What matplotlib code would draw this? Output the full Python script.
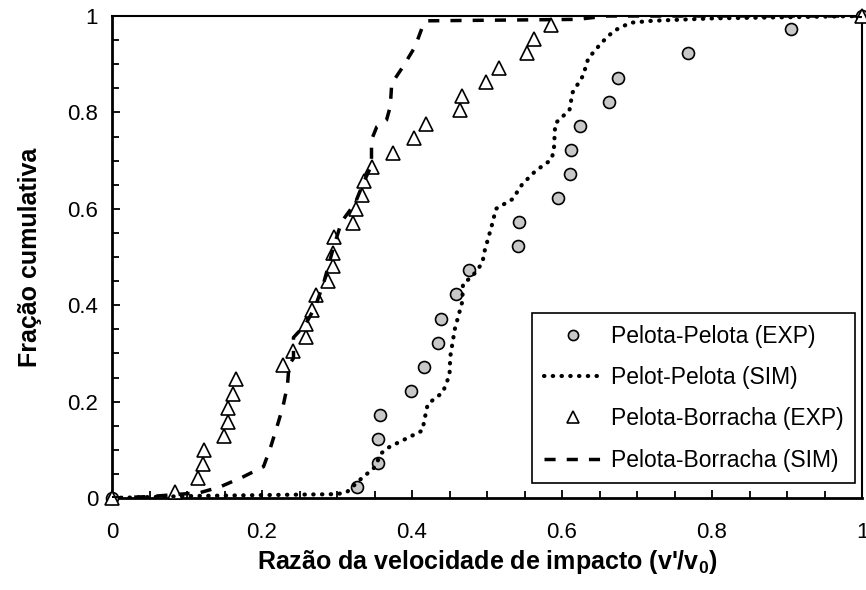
import matplotlib
matplotlib.use("Agg")
import matplotlib.pyplot as plt
from matplotlib.ticker import MultipleLocator, FuncFormatter

plt.rcParams["font.family"] = ["Liberation Sans", "DejaVu Sans"]
plt.rcParams["mathtext.fontset"] = "custom"
plt.rcParams["mathtext.rm"] = "Liberation Sans"
plt.rcParams["mathtext.bf"] = "Liberation Sans:bold"

# Pelota-Pelota, experimental
pp_exp_x = [0, 0.327, 0.354, 0.355, 0.357, 0.398, 0.416, 0.434, 0.438, 0.459, 0.476,
            0.541, 0.542, 0.594, 0.610, 0.612, 0.624, 0.663, 0.675, 0.768, 0.905, 1.0]
pp_exp_y = [0, 0.022, 0.073, 0.123, 0.173, 0.223, 0.272, 0.322, 0.372, 0.423, 0.473,
            0.522, 0.573, 0.622, 0.672, 0.723, 0.772, 0.822, 0.871, 0.923, 0.972, 1.0]

# Pelota-Pelota, simulated
pp_sim_x = [0, 0.1, 0.2, 0.3, 0.313, 0.33, 0.349, 0.36, 0.37, 0.392, 0.414, 0.416, 0.421,
            0.441, 0.45, 0.451, 0.457, 0.467, 0.468, 0.48, 0.494, 0.496, 0.506, 0.512,
            0.534, 0.547, 0.565, 0.585, 0.589, 0.591, 0.61, 0.614, 0.628, 0.635, 0.653,
            0.669, 0.691, 0.72, 0.8, 1.0]
pp_sim_y = [0, 0.004, 0.006, 0.008, 0.012, 0.037, 0.062, 0.094, 0.106, 0.123, 0.140, 0.158,
            0.195, 0.219, 0.255, 0.293, 0.35, 0.407, 0.445, 0.459, 0.488, 0.508, 0.563, 0.6,
            0.62, 0.651, 0.679, 0.701, 0.718, 0.777, 0.805, 0.841, 0.876, 0.912, 0.945,
            0.969, 0.986, 0.99, 0.995, 1.0]

# Pelota-Borracha, experimental
pb_exp_x = [0, 0.084, 0.114, 0.121, 0.122, 0.149, 0.155, 0.155, 0.161, 0.165,
            0.228, 0.241, 0.259, 0.259, 0.267, 0.272, 0.288, 0.295, 0.295,
            0.296, 0.321, 0.325, 0.333, 0.336, 0.347, 0.374,
            0.403, 0.419, 0.464, 0.467, 0.499, 0.516, 0.553, 0.562, 0.585, 1.0]
pb_exp_y = [0, 0.013, 0.041, 0.070, 0.100, 0.129, 0.157, 0.186, 0.216, 0.246,
            0.276, 0.304, 0.333, 0.361, 0.391, 0.421, 0.450, 0.481, 0.509,
            0.541, 0.570, 0.599, 0.629, 0.658, 0.687, 0.716,
            0.746, 0.775, 0.805, 0.835, 0.864, 0.893, 0.923, 0.952, 0.981, 1.0]

# Pelota-Borracha, simulated
pb_sim_x = [0, 0.05, 0.117, 0.144, 0.175, 0.202, 0.211, 0.22, 0.228, 0.234, 0.236, 0.242,
            0.242, 0.258, 0.271, 0.282, 0.295, 0.306, 0.324, 0.335, 0.346, 0.346, 0.353,
            0.366, 0.371, 0.373, 0.388, 0.404, 0.414, 0.42, 0.62, 0.66, 1.0]
pb_sim_y = [0, 0.003, 0.011, 0.023, 0.044, 0.065, 0.103, 0.148, 0.19, 0.234, 0.276, 0.29,
            0.333, 0.36, 0.397, 0.445, 0.518, 0.573, 0.611, 0.653, 0.69, 0.743, 0.77,
            0.784, 0.812, 0.86, 0.895, 0.936, 0.978, 0.99, 0.993, 1.0, 1.0]

fig = plt.figure(figsize=(8.66, 5.90), dpi=100)
ax = fig.add_axes([112 / 866, 1 - 498 / 590, 750 / 866, 482 / 590])

ax.plot(pp_exp_x, pp_exp_y, ls="none", marker="o", ms=8.6, mfc="#c8c8c8", mec="black",
        mew=1.2, clip_on=False, zorder=3, label="Pelota-Pelota (EXP)")
ax.plot(pp_sim_x, pp_sim_y, color="black", lw=3.0, dashes=(0.1, 2.0),
        dash_capstyle="round", zorder=4, label="Pelot-Pelota (SIM)")
ax.plot(pb_exp_x, pb_exp_y, ls="none", marker="^", ms=9.5, mfc="white", mec="black",
        mew=1.2, clip_on=False, zorder=3, label="Pelota-Borracha (EXP)")
ax.plot(pb_sim_x, pb_sim_y, color="black", lw=2.5, dashes=(3.2, 3.2),
        zorder=4, label="Pelota-Borracha (SIM)")

ax.set_xlim(0, 1)
ax.set_ylim(0, 1)
ax.xaxis.set_major_locator(MultipleLocator(0.2))
ax.yaxis.set_major_locator(MultipleLocator(0.2))
ax.xaxis.set_minor_locator(MultipleLocator(0.05))
ax.yaxis.set_minor_locator(MultipleLocator(0.05))
fmt = FuncFormatter(lambda v, _: f"{v:g}")
ax.xaxis.set_major_formatter(fmt)
ax.yaxis.set_major_formatter(fmt)
ax.tick_params(which="both", direction="in", labelsize=16, width=1.3)
ax.tick_params(which="major", length=5.5)
ax.tick_params(which="minor", length=5)
ax.tick_params(axis="x", pad=17)
ax.tick_params(axis="y", pad=10)
for side in ("left", "bottom"):
    ax.spines[side].set_linewidth(2)
for side in ("top", "right"):
    ax.spines[side].set_linewidth(1.5)

ax.set_xlabel(r"Razão da velocidade de impacto (v'/v$_\mathbf{0}$)",
              fontsize=18, fontweight="bold", labelpad=4)
ax.set_ylabel("Fração cumulativa", fontsize=18, fontweight="bold", labelpad=18)

leg = ax.legend(loc="lower right", bbox_to_anchor=(0.991, 0.031), borderaxespad=0,
                fontsize=16.5, numpoints=1, markerscale=0.85, handlelength=2.6,
                handletextpad=0.35, labelspacing=0.8, borderpad=0.5,
                fancybox=False, framealpha=1, edgecolor="black")
leg.get_frame().set_linewidth(1.2)

fig.savefig("out.png", dpi=100)
